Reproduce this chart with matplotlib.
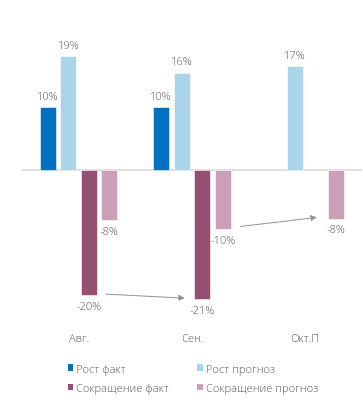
import numpy as np
import matplotlib.pyplot as plt
from matplotlib.patches import Patch

plt.rcParams['font.family'] = ['Open Sans', 'DejaVu Sans']
plt.rcParams['font.weight'] = 'light'

months = ["Авг.", "Сен.", "Окт.П"]
series = ["Рост факт", "Рост прогноз", "Сокращение факт", "Сокращение прогноз"]
growth_fact = [10.3, 10.3, np.nan]
growth_fcst = [18.6, 15.9, 17.0]
cut_fact = [-20.5, -21.1, np.nan]
cut_fcst = [-8.2, -9.7, -8.0]
colors = ["#0070C0", "#A9D4EA", "#954F72", "#CC9FB8"]

txt = "#595959"
fs = 8

fig = plt.figure(figsize=(3.63, 4.14), dpi=100)
ax = fig.add_axes([22 / 363, 1 - 328 / 414, 340 / 363, 328 / 414])

x = np.arange(len(months))
step = 0.181
width = 0.142
data = [growth_fact, growth_fcst, cut_fact, cut_fcst]
for i, vals in enumerate(data):
    xs = x + (i - 1.5) * step
    v = np.array(vals, dtype=float)
    ok = ~np.isnan(v)
    ax.bar(xs[ok], v[ok], width, color=colors[i], edgecolor="white", linewidth=0.4)
    for xi, vi in zip(xs[ok], v[ok]):
        off = 8 if vi > 0 else -8
        ax.annotate(f"{round(vi):d}%", (xi, vi), xytext=(0, off), textcoords="offset points",
                    ha="center", va="center", fontsize=fs, color=txt)

ax.axhline(0, color="#D9D9D9", lw=1.2, zorder=0)

# dotted arrows between the cut bars
arrow_kw = dict(arrowstyle="-|>", color="#8C8C8C", lw=0.8, ls=(0, (1, 1)), mutation_scale=8)
gap = 0.06
ax.annotate("", xy=(x[1] + 0.5 * step - width / 2 - gap, cut_fact[1] + 0.1),
            xytext=(x[0] + 0.5 * step + width / 2 + gap, cut_fact[0] + 0.2), arrowprops=arrow_kw)
ax.annotate("", xy=(x[2] + 1.5 * step - width / 2 - gap - 0.015, cut_fcst[2] + 0.3),
            xytext=(x[1] + 1.5 * step + width / 2 + gap, cut_fcst[1] + 0.4), arrowprops=arrow_kw)

ax.set_xlim(-0.5, 2.5)
ax.set_ylim(-25.7, 28.0)
ax.set_xticks(x, months)
ax.tick_params(axis="x", length=0, pad=4, labelsize=fs, labelcolor=txt)
ax.set_yticks([])
for s in ax.spines.values():
    s.set_visible(False)

# legend filled row by row
order = [0, 2, 1, 3]
handles = [Patch(facecolor=colors[k], edgecolor="none") for k in order]
fig.legend(handles, [series[k] for k in order], loc="upper left",
           bbox_to_anchor=(62 / 363, 1 - 359 / 414),
           ncol=2, frameon=False, fontsize=fs, labelcolor=txt, borderpad=0,
           handlelength=0.5, handleheight=0.5, handletextpad=0.3,
           labelspacing=0.75, columnspacing=2.5)

fig.savefig("out.png", dpi=100)
